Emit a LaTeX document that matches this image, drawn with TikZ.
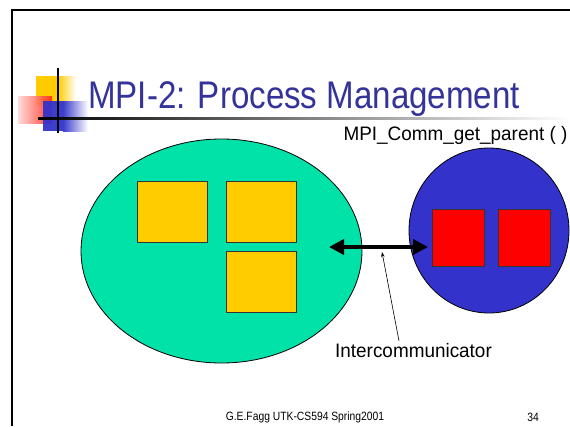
\documentclass[tikz,border=0pt]{standalone}
\usepackage{fontspec}
\setmainfont{Liberation Sans}
\newfontfamily\tah[FakeStretch=0.86]{Liberation Sans}
\newfontfamily\tahl[FakeStretch=0.97]{Liberation Sans}
\usetikzlibrary{arrows.meta,shapes.geometric}
\definecolor{titleblue}{RGB}{51,51,153}
\definecolor{grpgreen}{RGB}{0,226,168}
\definecolor{grpblue}{RGB}{51,51,204}
\definecolor{sqyellow}{RGB}{255,204,0}
\definecolor{sqred}{RGB}{255,0,0}
\definecolor{logopink}{RGB}{255,215,215}
\definecolor{logored}{RGB}{255,40,20}
\tikzset{
  grp/.style={ellipse, draw=black, line width=0.8pt, inner sep=0},
  ysq/.style={draw=black!80, line width=0.8pt, fill=sqyellow, minimum width=70, minimum height=61, inner sep=0},
  rsq/.style={draw=black!80, line width=0.8pt, fill=sqred, minimum width=52, minimum height=57, inner sep=0},
  lbl/.style={font=\tahl\fontsize{19.5}{20}\selectfont, inner sep=0},
  foot/.style={font=\tah\fontsize{12}{13}\selectfont, inner sep=0}
}
\begin{document}
\begin{tikzpicture}[x=1pt,y=-1pt]
\useasboundingbox (0,0) rectangle (570,426);
\fill[white] (0,0) rectangle (570,426);
% slide border
\draw[line width=2pt] (11.5,426) -- (11.5,9.5) -- (570,9.5);
% logo
\fill[sqyellow] (36,76) rectangle (58,105);
\shade[left color=sqyellow, right color=white] (58,76) rectangle (76,105);
\shade[left color=logopink, right color=logored, opacity=0.9] (18,96) rectangle (52,123);
\fill[grpblue, opacity=0.95] (43,101) rectangle (63,131);
\shade[left color=grpblue, right color=white, opacity=0.95] (63,101) rectangle (88,131);
\shade[left color=black, right color=white] (38,117) rectangle (570,119);
\draw[line width=2pt] (58,68) -- (58,133);
% title
\node[anchor=base west, font=\tah\fontsize{38.5}{39}\selectfont, text=titleblue, inner sep=0] (title) at (88,108) {MPI-2: Process Management};
% groups
\node[grp, fill=grpgreen, minimum width=281, minimum height=224] (parent) at (221.5,251) {};
\node[grp, fill=grpblue, minimum width=160, minimum height=165] (child) at (489,230.5) {};
\node[ysq] (y1) at (172,211.5) {};
\node[ysq] (y2) at (261,211.5) {};
\node[ysq] (y3) at (261,282) {};
\node[rsq] (r1) at (458,237.5) {};
\node[rsq] (r2) at (524,237.5) {};
% arrow
\coordinate (aL) at (329,247);
\coordinate (aR) at (428,247);
\draw[line width=4pt, {Triangle[length=15pt,width=15pt]}-{Triangle[length=15pt,width=15pt]}] (aL) -- (aR);
% labels
\node[lbl] (getp) at (455.5,135) {MPI\_Comm\_get\_parent ( )};
\node[lbl] (inter) at (413.5,351) {Intercommunicator};
\coordinate (pstart) at (399,341);
\coordinate (ptip) at (382,252);
\draw[line width=0.6pt, -{Stealth[length=5pt,width=3.5pt]}] (pstart) -- (ptip);
% footer
\node[foot] (f1) at (305,417) {G.E.Fagg UTK-CS594 Spring2001};
\node[foot] (f2) at (533,417) {34};
\end{tikzpicture}
\end{document}
